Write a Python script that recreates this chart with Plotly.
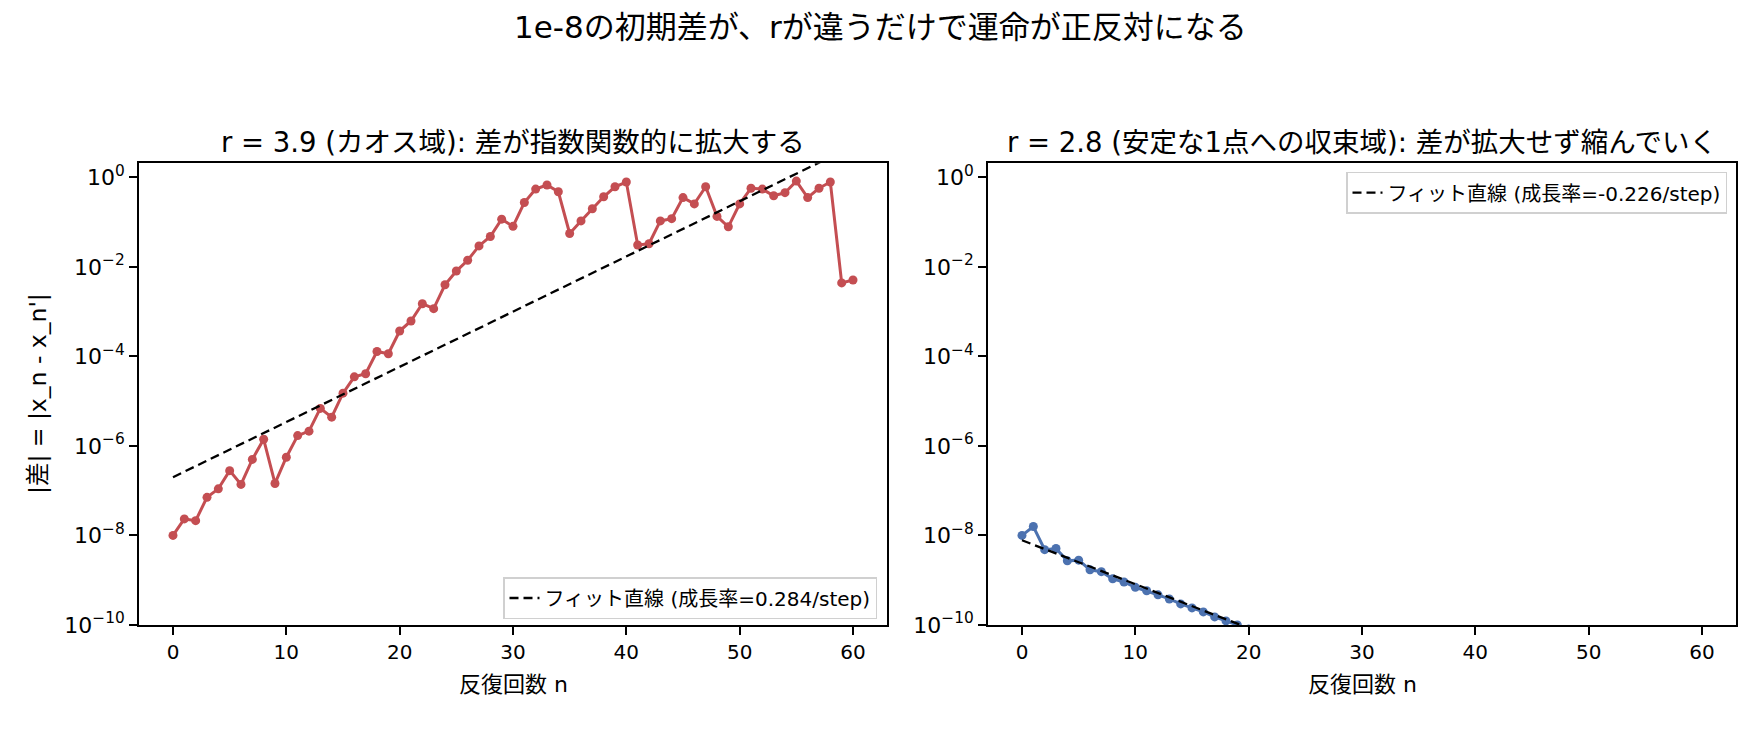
import numpy as np
import plotly.graph_objects as go

# ---------------- data ----------------
n_chaos = list(range(0, 61))
diff_chaos = [
    1.0e-8, 2.34e-8, 2.14e-8, 7.1e-8, 1.10e-7, 2.8e-7, 1.38e-7, 5.0e-7, 1.41e-6, 1.45e-7,
    5.6e-7, 1.70e-6, 2.14e-6, 6.9e-6, 4.4e-6, 1.51e-5, 3.5e-5, 4.1e-5, 1.29e-4, 1.15e-4,
    3.7e-4, 6.2e-4, 1.51e-3, 1.17e-3, 4.0e-3, 8.1e-3, 1.41e-2, 2.95e-2, 4.8e-2, 0.117,
    0.081, 0.275, 0.55, 0.68, 0.48, 0.056, 0.107, 0.20, 0.37, 0.62,
    0.79, 0.031, 0.033, 0.107, 0.12, 0.355, 0.257, 0.62, 0.135, 0.079,
    0.257, 0.575, 0.55, 0.39, 0.457, 0.83, 0.355, 0.575, 0.79, 4.4e-3,
    5.1e-3,
]
n_stable = list(range(0, 21))
diff_stable = [
    1.0e-8, 1.58e-8, 4.8e-9, 5.1e-9, 2.7e-9, 2.8e-9, 1.70e-9, 1.55e-9, 1.07e-9, 9.1e-10,
    6.9e-10, 5.8e-10, 4.7e-10, 3.8e-10, 2.95e-10, 2.4e-10, 1.95e-10, 1.51e-10, 1.23e-10, 1.0e-10,
    8.1e-11,
]
# fitted lines: ln|diff| = ln(a) + rate * n
fit_chaos_rate = 0.284
fit_chaos_a = 2.0e-7
fit_stable_rate = -0.226
fit_stable_a = 7.8e-9
fit_n = list(range(0, 61))

suptitle = "1e-8の初期差が、rが違うだけで運命が正反対になる"
title_left = "r = 3.9 (カオス域): 差が指数関数的に拡大する"
title_right = "r = 2.8 (安定な1点への収束域): 差が拡大せず縮んでいく"
xlabel = "反復回数 n"
ylabel = "|差| = |x_n - x_n'|"
x_ticks = [0, 10, 20, 30, 40, 50, 60]
y_tick_exps = [0, -2, -4, -6, -8, -10]

# ---------------- style ----------------
W, H = 1760, 736
RED = "#C44E52"
BLUE = "#4C72B0"
FONT = "'DejaVu Sans', 'Noto Sans CJK JP', sans-serif"

L1, R1 = 139, 887
L2, R2 = 988, 1736
TOP, BOT = 165.3, 636

def px(x):
    return x / W

def py(y):
    return 1 - y / H

fig = go.Figure()

fn = np.array(fit_n, dtype=float)
fit_chaos = fit_chaos_a * np.exp(fit_chaos_rate * fn)
fit_stable = fit_stable_a * np.exp(fit_stable_rate * fn)

fig.add_trace(go.Scatter(
    x=n_chaos, y=diff_chaos, mode="lines+markers",
    line=dict(color=RED, width=3), marker=dict(color=RED, size=9),
    showlegend=False, xaxis="x", yaxis="y"))
fig.add_trace(go.Scatter(
    x=fit_n, y=fit_chaos, mode="lines",
    line=dict(color="black", width=2.3, dash="9px,5px"),
    name=f"フィット直線 (成長率={fit_chaos_rate:.3f}/step)",
    legend="legend", xaxis="x", yaxis="y"))

fig.add_trace(go.Scatter(
    x=n_stable, y=diff_stable, mode="lines+markers",
    line=dict(color=BLUE, width=3), marker=dict(color=BLUE, size=9),
    showlegend=False, xaxis="x2", yaxis="y2"))
fig.add_trace(go.Scatter(
    x=fit_n, y=fit_stable, mode="lines",
    line=dict(color="black", width=2.3, dash="9px,5px"),
    name=f"フィット直線 (成長率={fit_stable_rate:.3f}/step)",
    legend="legend2", xaxis="x2", yaxis="y2"))

axis_common = dict(
    showline=True, mirror=True, linecolor="black", linewidth=1.6,
    ticks="outside", ticklen=8, tickwidth=1.5, tickcolor="black",
    showgrid=False, zeroline=False,
)
xax = dict(axis_common, type="linear", range=[-3, 63], tickvals=x_ticks,
           tickfont=dict(family=FONT, size=20, color="black"))
yax = dict(axis_common, type="log", range=[-10, 0.32],
           tickvals=[10.0 ** e for e in y_tick_exps],
           ticktext=["10<sup>%s</sup>" % (str(e).replace("-", "−")) for e in y_tick_exps],
           tickfont=dict(family="DejaVu Sans", size=22, color="black"))

legend_common = dict(
    bgcolor="rgba(255,255,255,0.8)", bordercolor="#d0d0d0", borderwidth=1.5,
    font=dict(family=FONT, size=20, color="black"),
)

fig.update_layout(
    width=W, height=H,
    margin=dict(l=0, r=0, t=0, b=0),
    paper_bgcolor="white", plot_bgcolor="white",
    font=dict(family=FONT, color="black"),
    xaxis=dict(xax, domain=[px(L1), px(R1)], anchor="y"),
    yaxis=dict(yax, domain=[py(BOT), py(TOP)], anchor="x"),
    xaxis2=dict(xax, domain=[px(L2), px(R2)], anchor="y2"),
    yaxis2=dict(yax, domain=[py(BOT), py(TOP)], anchor="x2"),
    legend=dict(legend_common, x=px(877), y=py(630), xanchor="right", yanchor="bottom"),
    legend2=dict(legend_common, x=px(1727), y=py(174), xanchor="right", yanchor="top"),
    showlegend=True,
)

ann = [
    dict(text=suptitle, x=0.5, y=py(27), size=31),
    dict(text=title_left, x=px((L1 + R1) / 2), y=py(144), size=27.5),
    dict(text=title_right, x=px((L2 + R2) / 2), y=py(144), size=27.5),
    dict(text=xlabel, x=px((L1 + R1) / 2), y=py(697), size=22),
    dict(text=xlabel, x=px((L2 + R2) / 2), y=py(697), size=22),
]
for a in ann:
    fig.add_annotation(text=a["text"], x=a["x"], y=a["y"], xref="paper", yref="paper",
                       xanchor="center", yanchor="middle", showarrow=False,
                       font=dict(family=FONT, size=a["size"], color="black"))
fig.add_annotation(text=ylabel, x=px(38), y=py((TOP + BOT) / 2), xref="paper", yref="paper",
                   xanchor="center", yanchor="middle", showarrow=False, textangle=-90,
                   font=dict(family=FONT, size=23.5, color="black"))

fig.write_html("out.html")
